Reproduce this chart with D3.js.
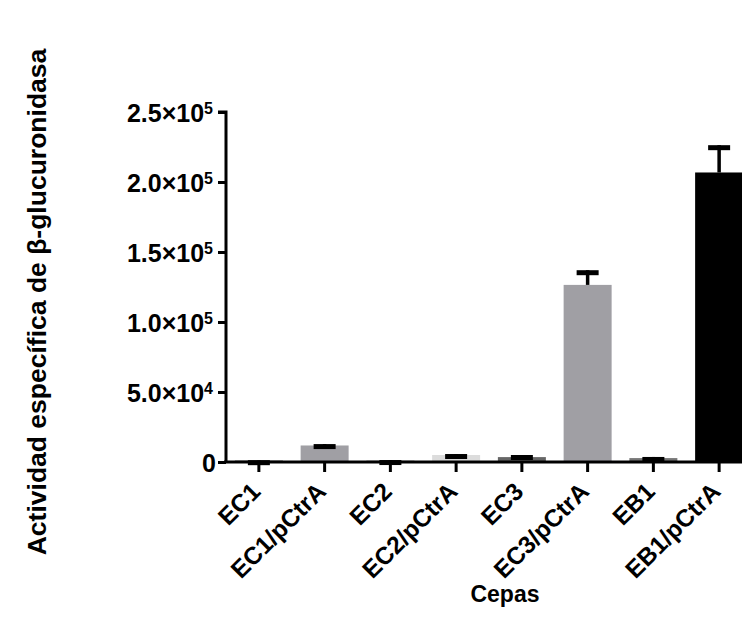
<!DOCTYPE html>
<html>
<head>
<meta charset="utf-8">
<script src="https://cdn.jsdelivr.net/npm/d3@7"></script>
<style>
  body { margin: 0; background: #fff; }
  text { font-family: "Liberation Sans", Arial, sans-serif; fill: #000; }
</style>
</head>
<body>
<div id="chart"></div>
<script>
// data
const cepas = ['EC1', 'EC1/pCtrA', 'EC2', 'EC2/pCtrA', 'EC3', 'EC3/pCtrA', 'EB1', 'EB1/pCtrA'];
const media = [1000, 11800, 1000, 5000, 3500, 126500, 2800, 206800];
const sem = [300, 1000, 400, 700, 1500, 10500, 800, 19500];
const colores = ['#444', '#a09fa4', '#888', '#dcdcdc', '#666', '#a09fa4', '#777', '#000'];
const yTicks = [0, 50000, 100000, 150000, 200000, 250000];

const W = 742, H = 632;
const svg = d3.select('#chart').append('svg')
  .attr('width', W)
  .attr('height', H);

const x = d3.scaleBand()
  .domain(cepas)
  .range([226, 752])
  .paddingInner(0.27)
  .paddingOuter(0.135);

const y = d3.scaleLinear()
  .domain([0, 250000])
  .range([462, 112]);

// bars
svg.selectAll('.bar')
  .data(cepas)
  .enter().append('rect')
  .attr('class', 'bar')
  .attr('x', d => x(d))
  .attr('width', x.bandwidth())
  .attr('y', (d, i) => y(media[i]))
  .attr('height', (d, i) => y(0) - y(media[i]))
  .attr('fill', (d, i) => colores[i]);

// error bars (upper only, thick cap)
const err = svg.selectAll('.err')
  .data(cepas)
  .enter().append('g')
  .attr('class', 'err');

err.append('line')
  .attr('x1', d => x(d) + x.bandwidth() / 2)
  .attr('x2', d => x(d) + x.bandwidth() / 2)
  .attr('y1', (d, i) => y(media[i]))
  .attr('y2', (d, i) => y(media[i] + sem[i]))
  .attr('stroke', '#000')
  .attr('stroke-width', 3.5);

err.append('rect')
  .attr('x', d => x(d) + x.bandwidth() / 2 - 11)
  .attr('width', 22)
  .attr('y', (d, i) => y(media[i] + sem[i]))
  .attr('height', 5)
  .attr('fill', '#000');

// y axis
const yAxis = svg.append('g')
  .attr('transform', 'translate(226,0)')
  .call(d3.axisLeft(y).tickValues(yTicks).tickSize(8).tickPadding(8).tickFormat(''));

yAxis.select('.domain').attr('stroke-width', 3).attr('d', 'M-8,' + y(250000) + 'H0V' + y(0));
yAxis.selectAll('.tick line').attr('stroke-width', 3);

yAxis.selectAll('.tick').each(function(d) {
  const t = d3.select(this).append('text')
    .attr('x', d === 0 ? -10 : -13)
    .attr('dy', '0.36em')
    .attr('text-anchor', 'end')
    .style('font-size', '25px')
    .style('font-weight', 'bold');
  if (d === 0) {
    t.text('0');
  } else {
    const e = Math.floor(Math.log10(d));
    const m = (d / Math.pow(10, e)).toFixed(1);
    t.append('tspan').text(m + '\u00d7' + '10');
    t.append('tspan').text(e).attr('dy', '-0.5em').style('font-size', '16px');
  }
});

// x axis
const xAxis = svg.append('g')
  .attr('transform', 'translate(0,462)')
  .call(d3.axisBottom(x).tickSize(10).tickSizeOuter(0));

xAxis.select('.domain').attr('stroke-width', 3).attr('d', 'M224,0H742');
xAxis.selectAll('.tick line').attr('stroke-width', 3);
xAxis.selectAll('.tick text')
  .attr('x', 0)
  .attr('y', 0)
  .attr('dy', 0)
  .attr('text-anchor', 'end')
  .attr('transform', 'translate(3,31) rotate(-45)')
  .style('font-size', '24.5px')
  .style('font-weight', 'bold');

// axis titles
svg.append('text')
  .attr('x', 505)
  .attr('y', 602)
  .attr('text-anchor', 'middle')
  .style('font-size', '23px')
  .style('font-weight', 'bold')
  .text('Cepas');

svg.append('text')
  .attr('transform', 'translate(46,302) rotate(-90)')
  .attr('text-anchor', 'middle')
  .style('font-size', '26.5px')
  .style('font-weight', 'bold')
  .text('Actividad específica de β-glucuronidasa');
</script>
</body>
</html>
